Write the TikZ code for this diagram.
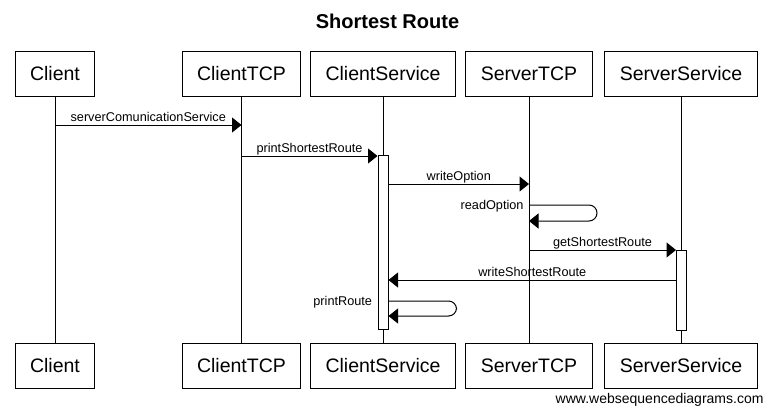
\documentclass[tikz,border=0pt]{standalone}
\usepackage{fontspec}
\setmainfont{Liberation Sans}
\usetikzlibrary{arrows.meta}

\begin{document}
\begin{tikzpicture}[x=1pt, y=-1pt, line width=1pt,
    actor/.style={draw, fill=white, minimum height=45pt, inner xsep=15pt,
        font=\fontsize{19.5}{23}\selectfont},
    actbar/.style={draw, fill=white, minimum width=10pt, inner sep=0pt},
    msg/.style={-{Triangle[length=9.5pt, width=15pt]}},
    lbl/.style={anchor=base, inner sep=0pt, font=\fontsize{12.7}{15}\selectfont},
    msglbl/.style={lbl, yshift=3.5pt}]

    \useasboundingbox[fill=white] (0,0) rectangle (773,413);

    % Title
    \node[font=\bfseries\fontsize{20}{24}\selectfont] (title) at (387.5,21) {Shortest Route};

    % Participants on top and bottom, joined by their lifelines
    \foreach \name/\x in {Client/55, ClientTCP/241.5, ClientService/383, ServerTCP/529, ServerService/681} {
        \node[actor] (\name-top) at (\x,74) {\name};
        \node[actor] (\name-bot) at (\x,365.5) {\name};
        \draw (\name-top) -- (\name-bot);
    }

    % Activation bars
    \node[actbar, minimum height=174pt] (csbar) at (383,242) {};
    \node[actbar, minimum height=80pt] (ssbar) at (681.5,290) {};

    % Messages
    \draw[msg] (Client-top |- 0,125) -- node[msglbl] {serverComunicationService} (ClientTCP-top |- 0,125);
    \draw[msg] (ClientTCP-top |- 0,156) -- node[msglbl] {printShortestRoute} (csbar.west |- 0,156);
    \draw[msg] (csbar.east |- 0,184) -- node[msglbl] {writeOption} (ServerTCP-top |- 0,184);

    % readOption goes back to ServerTCP itself
    \draw[msg, rounded corners=8pt] (ServerTCP-top |- 0,205) -- ++(68,0) -- ++(0,16) -- (ServerTCP-top |- 0,221);
    \node[lbl, anchor=base east, xshift=-5pt] (readlbl) at (ServerTCP-top |- 0,209.5) {readOption};

    \draw[msg] (ServerTCP-top |- 0,250) -- node[msglbl] {getShortestRoute} (ssbar.west |- 0,250);
    \draw[msg] (ssbar.west |- 0,280) -- node[msglbl] {writeShortestRoute} (csbar.east |- 0,280);

    % printRoute goes back to ClientService itself
    \draw[msg, rounded corners=8pt] (csbar.east |- 0,301) -- ++(68,0) -- ++(0,15) -- (csbar.east |- 0,316);
    \node[lbl, anchor=base east, xshift=-5pt] (printlbl) at (csbar.west |- 0,305) {printRoute};

    % Credit line
    \node[anchor=base east, inner sep=0pt, font=\fontsize{14}{17}\selectfont] (credit) at (764,403) {www.websequencediagrams.com};

\end{tikzpicture}
\end{document}
